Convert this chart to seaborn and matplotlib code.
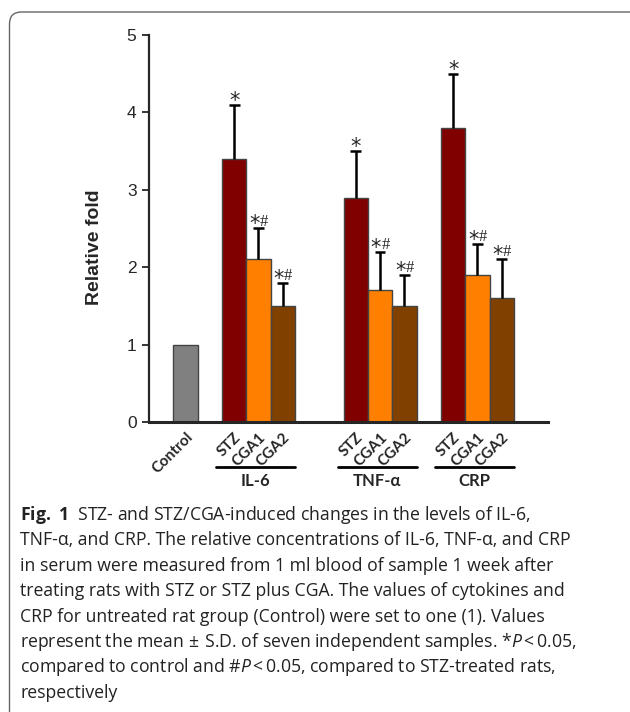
import numpy as np
import pandas as pd
import matplotlib
matplotlib.use("Agg")
import matplotlib.pyplot as plt
import seaborn as sns
from matplotlib.patches import FancyBboxPatch
from matplotlib.transforms import IdentityTransform

# data
positions = [1.5, 3.5, 4.5, 5.5, 8.5, 9.5, 10.5, 12.5, 13.5, 14.5]
tick_labels = ["Control", "STZ", "CGA1", "CGA2", "STZ", "CGA1", "CGA2", "STZ", "CGA1", "CGA2"]
treatments = ["Control", "STZ", "CGA1", "CGA2", "STZ", "CGA1", "CGA2", "STZ", "CGA1", "CGA2"]
means = [1.0, 3.4, 2.1, 1.5, 2.9, 1.7, 1.5, 3.8, 1.9, 1.6]
sds = [0.0, 0.7, 0.4, 0.3, 0.6, 0.5, 0.4, 0.7, 0.4, 0.5]
marks = ["", "*", "*#", "*#", "*", "*#", "*#", "*", "*#", "*#"]
groups = ["IL-6", "TNF-\u03b1", "CRP"]
group_members = [[3.5, 4.5, 5.5], [8.5, 9.5, 10.5], [12.5, 13.5, 14.5]]

palette = {"Control": "#808080", "STZ": "#800000", "CGA1": "#FF8000", "CGA2": "#804000"}

caption = [
    r"$\mathbf{Fig.\ 1}$  STZ- and STZ/CGA-induced changes in the levels of IL-6,",
    "TNF-\u03b1, and CRP. The relative concentrations of IL-6, TNF-\u03b1, and CRP",
    "in serum were measured from 1 ml blood of sample 1 week after",
    "treating rats with STZ or STZ plus CGA. The values of cytokines and",
    "CRP for untreated rat group (Control) were set to one (1). Values",
    r"represent the mean$\,\pm\,$S.D. of seven independent samples. *$\mathit{P}\,$<$\,$0.05,",
    r"compared to control and #$\mathit{P}\,$<$\,$0.05, compared to STZ-treated rats,",
    "respectively",
]

df = pd.DataFrame({"pos": positions, "value": means, "treatment": treatments})

sns.set_style("ticks")
plt.rcParams["font.family"] = ["Liberation Sans", "DejaVu Sans"]
plt.rcParams["mathtext.fontset"] = "custom"
plt.rcParams["mathtext.rm"] = "Open Sans"
plt.rcParams["mathtext.it"] = "Open Sans:italic"
plt.rcParams["mathtext.bf"] = "Open Sans:bold"

W, H = 630, 712
fig = plt.figure(figsize=(W / 100, H / 100), dpi=100)

# rounded caption frame (pixel coordinates, runs off right and bottom edges)
frame = FancyBboxPatch((9.5, -14), 636, (H - 12) + 14,
                       boxstyle="round,pad=0,rounding_size=12",
                       transform=IdentityTransform(), fill=False,
                       edgecolor="#666666", linewidth=1.0)
fig.patches.append(frame)

ax = fig.add_axes([149 / W, 1 - 422 / H, (548 - 149) / W, (422 - 35) / H])

sns.barplot(data=df, x="pos", y="value", hue="treatment", palette=palette,
            native_scale=True, dodge=False, errorbar=None, width=1.0,
            saturation=1, edgecolor="#444444", linewidth=1.0, legend=False, ax=ax)

# upper-only error bars
tops = np.array(means) + np.array(sds)
has_err = np.array(sds) > 0
px = np.array(positions)[has_err]
ax.vlines(px, np.array(means)[has_err], tops[has_err], color="black", lw=1.8, zorder=1)
ax.hlines(tops[has_err], px - 0.22, px + 0.22, color="black", lw=1.8, zorder=3)

# significance marks
for x, top, t in zip(positions, tops, marks):
    if not t:
        continue
    sx = x if t == "*" else x - 0.17
    ax.annotate("*", (sx, top), xytext=(0, -2), textcoords="offset pixels",
                ha="center", va="baseline", fontsize=15, family=["DejaVu Sans"])
    if "#" in t:
        ax.annotate("#", (x + 0.22, top), xytext=(0, 3), textcoords="offset pixels",
                    ha="center", va="baseline", fontsize=12, family=["Liberation Serif"])

ax.set_xlim(0, 16.4)
ax.set_ylim(0, 5)
ax.set_yticks([0, 1, 2, 3, 4, 5])
ax.set_xticks(positions)
ax.set_xticklabels(tick_labels, rotation=45, ha="right", rotation_mode="anchor",
                   fontsize=11, fontweight="bold", family=["Lato", "DejaVu Sans"])
ax.tick_params(axis="x", length=0, pad=6)
ax.tick_params(axis="y", length=5, width=1.3, labelsize=12.5, direction="out", pad=4)
ax.set_xlabel("")
ax.set_ylabel("Relative fold", fontsize=14, fontweight="bold")
ax.yaxis.set_label_coords(-0.115, 0.452)
sns.despine(ax=ax)
ax.spines["left"].set_linewidth(1.6)
ax.spines["bottom"].set_linewidth(2.2)

# group underlines and labels
trans = ax.get_xaxis_transform()
for name, mem in zip(groups, group_members):
    x0, x1 = mem[0] - 0.75, mem[-1] + 0.5
    ax.plot([x0, x1], [-0.116, -0.116], color="black", lw=2.0,
            transform=trans, clip_on=False)
    ax.text((x0 + x1) / 2, -0.152, name, transform=trans, ha="center", va="center",
            fontsize=12, fontweight="bold", family=["Lato", "DejaVu Sans"])

# caption
y0 = 515
for i, line in enumerate(caption):
    fig.text(20 / W, 1 - (y0 + i * 25.4) / H, line, ha="left", va="center",
             fontsize=12.7, family=["Open Sans", "DejaVu Sans"], color="#222222")

fig.savefig("out.png", dpi=100)
